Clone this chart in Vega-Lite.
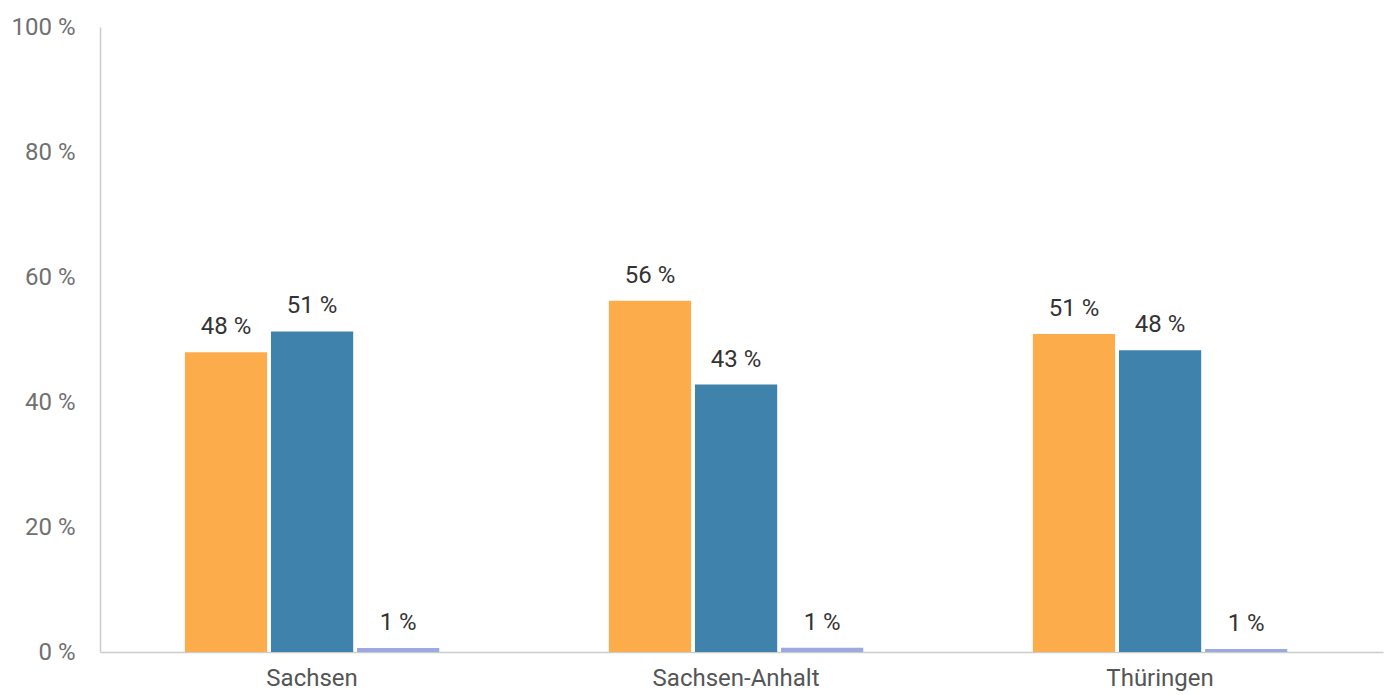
{
  "$schema": "https://vega.github.io/schema/vega-lite/v6.json",
  "width": 1283,
  "height": 625,
  "autosize": {"type": "none"},
  "padding": {"left": 100, "top": 27, "right": 3, "bottom": 43},
  "background": "white",
  "config": {"view": {"stroke": null}, "font": "Roboto"},
  "data": {
    "values": [
      {"land": "Sachsen", "serie": "A", "wert": 47.95},
      {"land": "Sachsen", "serie": "B", "wert": 51.3},
      {"land": "Sachsen", "serie": "C", "wert": 0.65},
      {"land": "Sachsen-Anhalt", "serie": "A", "wert": 56.2},
      {"land": "Sachsen-Anhalt", "serie": "B", "wert": 42.8},
      {"land": "Sachsen-Anhalt", "serie": "C", "wert": 0.7},
      {"land": "Thüringen", "serie": "A", "wert": 50.9},
      {"land": "Thüringen", "serie": "B", "wert": 48.3},
      {"land": "Thüringen", "serie": "C", "wert": 0.5}
    ]
  },
  "encoding": {
    "x": {
      "field": "land", "type": "nominal", "sort": null,
      "scale": {"paddingInner": 0.4, "paddingOuter": 0.213, "align": 0.47},
      "axis": {"title": null, "labelAngle": 0, "labelFontSize": 24, "labelColor": "#555555", "labelPadding": 14, "ticks": false, "domainColor": "#cccccc", "domainWidth": 1.5, "grid": false}
    },
    "xOffset": {"field": "serie", "type": "nominal", "scale": {"paddingInner": 0.045}},
    "y": {
      "field": "wert", "type": "quantitative",
      "scale": {"domain": [0, 100], "nice": false},
      "axis": {"title": null, "values": [0, 20, 40, 60, 80, 100], "labelExpr": "datum.value + ' %'", "labelFontSize": 24, "labelColor": "#707070", "labelPadding": 25, "ticks": false, "grid": false, "domainColor": "#cccccc", "domainWidth": 1.5}
    }
  },
  "layer": [
    {
      "mark": {"type": "bar"},
      "encoding": {
        "color": {
          "field": "serie", "type": "nominal",
          "scale": {"domain": ["A", "B", "C"], "range": ["#FDAC4C", "#3F83AC", "#9BA9E0"]},
          "legend": null
        }
      }
    },
    {
      "mark": {"type": "text", "baseline": "alphabetic", "dy": -18, "fontSize": 24, "color": "#333333", "text": {"expr": "format(datum.wert, '.0f') + ' %'"}},
      "encoding": {}
    }
  ]
}
